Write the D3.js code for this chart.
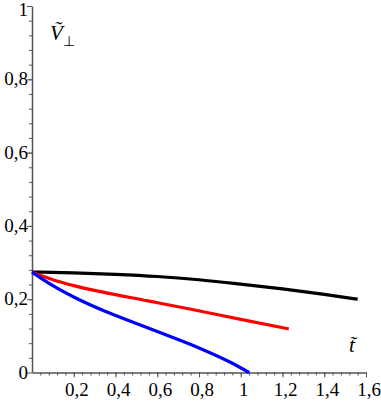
<!DOCTYPE html>
<html>
<head>
<meta charset="utf-8">
<script src="https://cdn.jsdelivr.net/npm/d3@7"></script>
<style>
  body { margin: 0; background: #fff; }
  svg { display: block; }
</style>
</head>
<body>
<svg width="381" height="401"></svg>
<script>
// curves
const blackT = [0, 0.2, 0.4, 0.6, 0.8, 1.0, 1.2, 1.4, 1.56];
const blackV = [0.274, 0.272, 0.268, 0.262, 0.253, 0.241, 0.228, 0.213, 0.2];

const redT = [0, 0.05, 0.1, 0.2, 0.35, 0.55, 0.75, 1.0, 1.23];
const redV = [0.274, 0.263, 0.253, 0.237, 0.218, 0.196, 0.174, 0.145, 0.119];

const blueT = [0, 0.05, 0.1, 0.2, 0.35, 0.5, 0.65, 0.8, 0.95, 1.04];
const blueV = [0.274, 0.255, 0.237, 0.206, 0.167, 0.134, 0.101, 0.067, 0.028, 0];

const xTicks = [0.2, 0.4, 0.6, 0.8, 1, 1.2, 1.4, 1.6];
const yTicks = [0, 0.2, 0.4, 0.6, 0.8, 1];

const svg = d3.select("svg");

const area = { left: 32, right: 366, top: 6, bottom: 372.5 };

const scX = d3.scaleLinear().domain([0, 1.6]).range([area.left, area.right]);
const scY = d3.scaleLinear().domain([0, 1]).range([area.bottom, area.top]);

const fmt = d => String(d).replace(".", ",");
const axisColor = "#555";

// minor ticks every 0.04
const minorX = d3.range(0.04, 1.6001, 0.04);
const minorY = d3.range(0.04, 1.0001, 0.04);

const gx = svg.append("g").attr("transform", `translate(0, ${area.bottom})`);
gx.call(d3.axisBottom(scX).tickValues(minorX).tickSize(3).tickFormat(""));
gx.call(g => g.select(".domain").remove());
gx.append("g").call(d3.axisBottom(scX).tickValues(xTicks).tickSize(5).tickSizeOuter(0).tickFormat(""));
gx.selectAll("line").attr("stroke", axisColor);
gx.selectAll(".domain").attr("stroke", axisColor).attr("stroke-width", 1.5);

const gy = svg.append("g").attr("transform", `translate(${area.left}, 0)`);
gy.call(d3.axisLeft(scY).tickValues(minorY).tickSize(3).tickFormat(""));
gy.call(g => g.select(".domain").remove());
gy.append("g").call(d3.axisLeft(scY).tickValues(yTicks).tickSize(5).tickSizeOuter(0).tickFormat(""));
gy.selectAll("line").attr("stroke", axisColor);
gy.selectAll(".domain").attr("stroke", axisColor).attr("stroke-width", 1.5);

// tick labels, outside the axis groups
const labels = svg.append("g")
    .attr("font-family", "Liberation Serif")
    .attr("font-size", 19)
    .attr("fill", "#000");

labels.selectAll("text.xlab")
    .data(xTicks)
    .enter()
    .append("text")
    .attr("class", "xlab")
    .attr("x", d => scX(d) + 3)
    .attr("y", area.bottom + 23)
    .attr("text-anchor", "middle")
    .text(fmt);

labels.selectAll("text.ylab")
    .data(yTicks)
    .enter()
    .append("text")
    .attr("class", "ylab")
    .attr("x", area.left - 4)
    .attr("y", d => Math.max(scY(d) + 6, 16))
    .attr("text-anchor", "end")
    .text(fmt);

function drawCurve(ts, vs, color) {
    const pts = ts.map((t, i) => ({ t: t, v: vs[i] }));
    const line = d3.line()
        .x(d => scX(d.t))
        .y(d => scY(d.v))
        .curve(d3.curveMonotoneX);
    svg.append("path")
        .datum(pts)
        .attr("fill", "none")
        .attr("stroke", color)
        .attr("stroke-width", 3.2)
        .attr("d", line);
}

drawCurve(blackT, blackV, "#000");
drawCurve(redT, redV, "#f00");
drawCurve(blueT, blueV, "#00f");

// axis titles
const vLab = labels.append("text")
    .attr("x", 50)
    .attr("y", 40)
    .attr("font-size", 21)
    .attr("font-style", "italic");
vLab.append("tspan").text("V\u0303");
vLab.append("tspan").attr("dy", 6).attr("font-size", 14).attr("font-style", "normal").text("\u22A5");

labels.append("text")
    .attr("x", 349)
    .attr("y", 352)
    .attr("font-size", 21)
    .attr("font-style", "italic")
    .text("t\u0303");
</script>
</body>
</html>
